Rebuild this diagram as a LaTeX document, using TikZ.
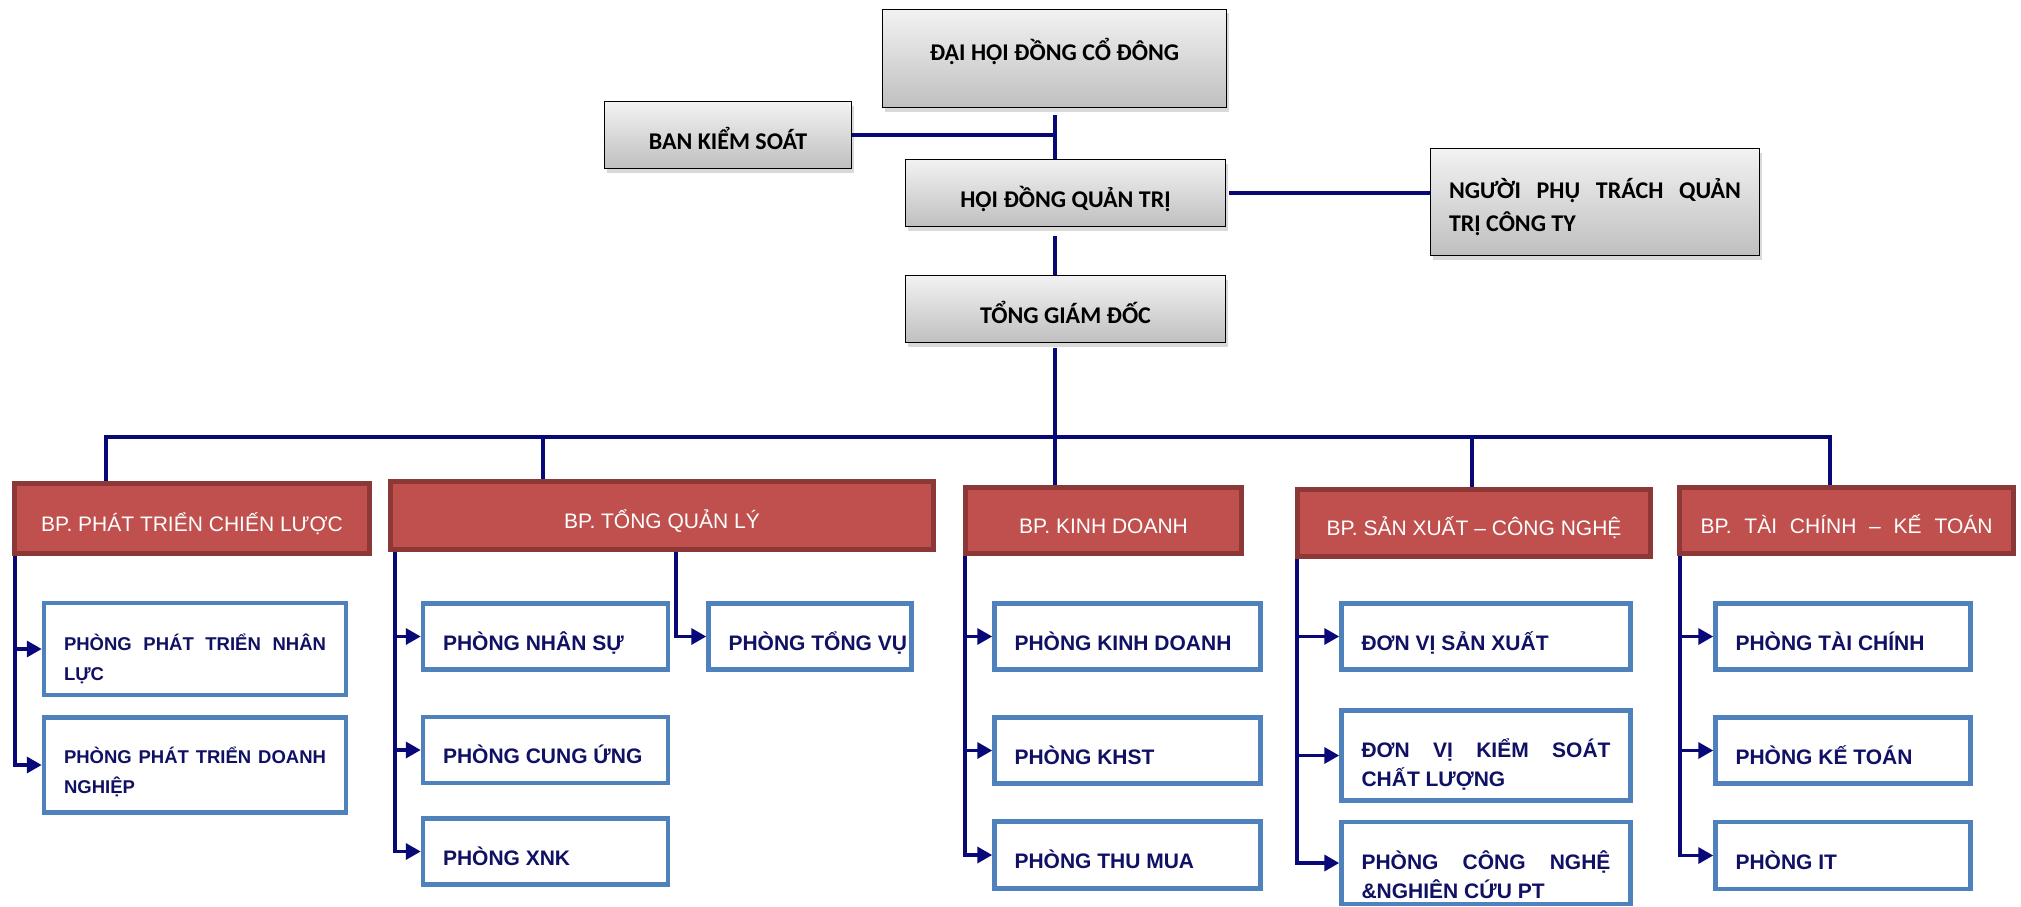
\documentclass[tikz,border=0pt]{standalone}
\usepackage{fontspec}
\setmainfont{Carlito}
\newfontfamily\arialfont{Liberation Sans}
\usetikzlibrary{positioning,calc,arrows.meta,shadows}
\definecolor{LineNavy}{RGB}{8,8,120}
\definecolor{TextNavy}{RGB}{16,16,100}
\definecolor{DeptRed}{RGB}{192,80,77}
\definecolor{DeptEdge}{RGB}{140,56,54}
\definecolor{UnitBlue}{RGB}{79,129,189}
\tikzset{
	head/.style={draw=black,line width=1.5pt,top color=black!5,bottom color=black!25,
		drop shadow={shadow xshift=2pt,shadow yshift=-4pt,opacity=.3},
		font={\bfseries\fontsize{24}{33}\selectfont},inner sep=0pt,text height=34pt,text depth=5pt},
	dept/.style={draw=DeptEdge,fill=DeptRed,line width=5pt,text=white,
		font={\arialfont\fontsize{21}{25}\selectfont},inner sep=0pt,text height=30pt,text depth=5pt},
	unit/.style={draw=UnitBlue,fill=white,line width=4.5pt,text=TextNavy,align=justify,
		font={\arialfont\bfseries\fontsize{21}{29}\selectfont},inner xsep=20pt,inner ysep=0pt,
		text height=32pt,text depth=5pt},
	unitsm/.style={unit,font={\arialfont\bfseries\fontsize{18.5}{30}\selectfont}},
	link/.style={draw=LineNavy,line width=4pt},
	feed/.style={draw=LineNavy,line width=3.5pt,-{Triangle[length=15pt,width=16pt]}},
}
\begin{document}
\begin{tikzpicture}[x=1pt,y=-1pt]
	\useasboundingbox (0,0) rectangle (2021,907);
	% board level
	\node[head,minimum width=344pt,minimum height=98pt,text height=21pt,text depth=18pt] (dhdcd) at (1054.5,58.5) {ĐẠI HỘI ĐỒNG CỔ ĐÔNG};
	\node[head,minimum width=247pt,minimum height=67pt] (bks) at (728,135) {BAN KIỂM SOÁT};
	\node[head,minimum width=320pt,minimum height=67pt] (hdqt) at (1065.5,193) {HỘI ĐỒNG QUẢN TRỊ};
	\node[head,minimum width=329pt,minimum height=107pt,text width=292pt,align=justify,inner xsep=18.5pt,
		text height=30pt,text depth=38pt] (nguoi) at (1595,202) {NGƯỜI PHỤ TRÁCH QUẢN\linebreak TRỊ CÔNG TY};
	\node[head,minimum width=320pt,minimum height=67pt] (tgd) at (1065.5,309) {TỔNG GIÁM ĐỐC};
	% divisions
	\node[dept,minimum width=355pt,minimum height=70pt] (bp1) at (192,518.5) {BP. PHÁT TRIỂN CHIẾN LƯỢC};
	\node[dept,minimum width=543pt,minimum height=68pt] (bp2) at (662,515.5) {BP. TỔNG QUẢN LÝ};
	\node[dept,minimum width=276pt,minimum height=66pt] (bp3) at (1103.5,520.5) {BP. KINH DOANH};
	\node[dept,minimum width=353pt,minimum height=67pt] (bp4) at (1474,523) {BP. SẢN XUẤT – CÔNG NGHỆ};
	\node[dept,minimum width=334pt,minimum height=66pt] (bp5) at (1846.5,520.5) {\makebox[292pt][s]{BP. TÀI CHÍNH – KẾ TOÁN}};
	% units
	\node[unitsm,text width=262pt,minimum height=92pt,text height=37pt,text depth=34pt] (u11) at (195,649) {PHÒNG PHÁT TRIỂN NHÂN\linebreak LỰC};
	\node[unitsm,text width=262pt,minimum height=95pt,text height=31pt,text depth=34pt] (u12) at (195,765) {PHÒNG PHÁT TRIỂN DOANH\linebreak NGHIỆP};
	\node[unit,text width=205pt,minimum height=66pt] (u21) at (545.5,636.5) {PHÒNG NHÂN SỰ};
	\node[unit,text width=205pt,minimum height=66pt] (u22) at (545.5,750) {\mbox{PHÒNG CUNG ỨNG}};
	\node[unit,text width=205pt,minimum height=66pt] (u23) at (545.5,851.5) {PHÒNG XNK};
	\node[unit,text width=163pt,minimum height=66pt] (u24) at (810,636.5) {\mbox{PHÒNG TỔNG VỤ}};
	\node[unit,text width=226pt,minimum height=66pt] (u31) at (1127.5,636.5) {\mbox{PHÒNG KINH DOANH}};
	\node[unit,text width=226pt,minimum height=66pt] (u32) at (1127.5,750.5) {PHÒNG KHST};
	\node[unit,text width=226pt,minimum height=67pt] (u33) at (1127.5,855) {PHÒNG THU MUA};
	\node[unit,text width=249pt,minimum height=66pt] (u41) at (1486,636.5) {ĐƠN VỊ SẢN XUẤT};
	\node[unit,text width=249pt,minimum height=90pt,text height=38pt,text depth=34pt] (u42) at (1486,755.5) {ĐƠN VỊ KIỂM SOÁT\linebreak CHẤT LƯỢNG};
	\node[unit,text width=249pt,minimum height=82pt,text height=46pt,text depth=34pt] (u43) at (1486,863) {PHÒNG CÔNG NGHỆ\linebreak \&NGHIÊN CỨU PT};
	\node[unit,text width=215pt,minimum height=66pt] (u51) at (1843,636.5) {PHÒNG TÀI CHÍNH};
	\node[unit,text width=215pt,minimum height=66pt] (u52) at (1843,750.5) {PHÒNG KẾ TOÁN};
	\node[unit,text width=215pt,minimum height=67pt] (u53) at (1843,855.5) {PHÒNG IT};
	% connectors
	\coordinate (sp) at (1055,437);
	\draw[link,shorten <=7pt] (dhdcd.south -| sp) -- (hdqt.north -| sp);
	\draw[link] (bks.east) -- (bks.east -| sp);
	\draw[link,shorten <=3pt] (hdqt.east) -- (hdqt.east -| nguoi.west);
	\draw[link,shorten <=9pt] (hdqt.south -| sp) -- (tgd.north -| sp);
	\draw[link,shorten <=5pt] (tgd.south -| sp) -- (sp);
	\coordinate (d1) at (106,437);
	\coordinate (d2) at (543,437);
	\coordinate (d4) at (1472,437);
	\coordinate (d5) at (1830,437);
	\draw[link] (d1 |- bp1.north) -- (d1) -- (d5) -- (d5 |- bp5.north);
	\foreach \d/\p in {d2/bp2,sp/bp3,d4/bp4}
	\draw[link] (\d) -- (\d |- \p.north);
	\coordinate (t1) at (15,0);
	\coordinate (t2) at (395,0);
	\coordinate (t2b) at (676,0);
	\coordinate (t3) at (965,0);
	\coordinate (t4) at (1297,0);
	\coordinate (t5) at (1680,0);
	\foreach \p/\t/\u in {bp1/t1/u11,bp1/t1/u12,bp2/t2/u21,bp2/t2/u22,bp2/t2/u23,bp2/t2b/u24,
		bp3/t3/u31,bp3/t3/u32,bp3/t3/u33,bp4/t4/u41,bp4/t4/u42,bp4/t4/u43,bp5/t5/u51,bp5/t5/u52,bp5/t5/u53}
	\draw[feed] (\p.south -| \t) |- (\u.west);
\end{tikzpicture}
\end{document}
